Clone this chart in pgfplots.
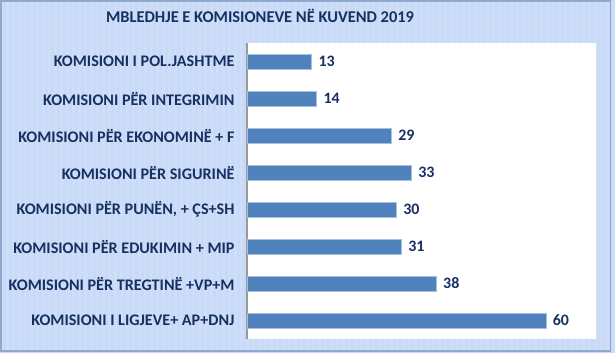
\documentclass[border=0pt]{standalone}
\usepackage{pgfplots}
\pgfplotsset{compat=1.18}
\usepackage{fontspec}
\setmainfont{Carlito}
\definecolor{bgblue}{HTML}{C9DAF8}
\definecolor{framec}{HTML}{8EA9C9}
\definecolor{barc}{HTML}{4F81BD}
\definecolor{baredge}{HTML}{A7C0DE}
\definecolor{navy}{HTML}{17305F}
\begin{document}
\begin{tikzpicture}[x=1bp,y=1bp]
\fill[bgblue] (0,0) rectangle (615,353);
\foreach \i in {0,6,...,612} {\fill[white,opacity=0.12] (\i,1) rectangle ({\i+3},352);}
\draw[framec,line width=1.2bp] (1,2) rectangle (610.5,352);
\node[font=\bfseries\fontsize{16.5}{19}\selectfont,text=navy] at (260,337.5) {MBLEDHJE E KOMISIONEVE NË KUVEND 2019};
\begin{axis}[
  at={(247bp,14bp)}, anchor=south west,
  width=349bp, height=296bp, scale only axis,
  xbar, bar width=0.4,
  xmin=0, xmax=70,
  ymin=-0.5, ymax=7.5,
  ytick={0,...,7},
  yticklabels={KOMISIONI I LIGJEVE+ AP+DNJ, KOMISIONI PËR TREGTINË +VP+M, KOMISIONI PËR EDUKIMIN + MIP, {KOMISIONI PËR PUNËN, + ÇS+SH}, KOMISIONI PËR SIGURINË\ , KOMISIONI PËR EKONOMINË + F, KOMISIONI PËR INTEGRIMIN, KOMISIONI I POL.JASHTME},
  yticklabel style={font=\bfseries\fontsize{16.2}{18}\selectfont, text=navy, xshift=-9bp},
  major tick length=0pt,
  xtick=\empty,
  axis background/.style={fill=white},
  axis x line=none,
  axis y line*=left,
  y axis line style={draw=gray!80, line width=1.8bp, -},
  nodes near coords,
  every node near coord/.append style={anchor=west, font=\bfseries\fontsize{16}{18}\selectfont, text=navy, xshift=3bp},
  point meta=explicit symbolic,
]
\addplot[fill=barc, draw=baredge, line width=0.8bp] coordinates {
 (60,0) [60] (38,1) [38] (31,2) [31] (30,3) [30] (33,4) [33] (29,5) [29] (14,6) [14] (13,7) [13]
};
\end{axis}
\end{tikzpicture}
\end{document}
